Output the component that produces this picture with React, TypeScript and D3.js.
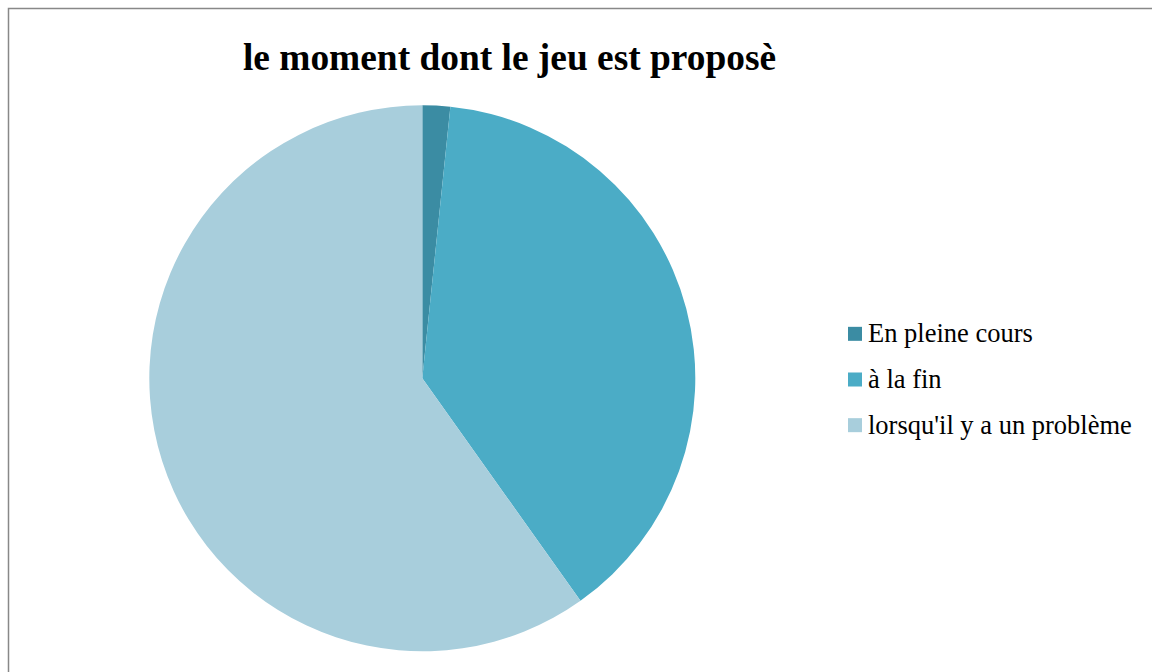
import React from "react";
import * as d3 from "d3";

const categories = ["En pleine cours", "à la fin", "lorsqu'il y a un problème"];
const values = [2, 47, 73];
const colors = ["#3B8CA3", "#4BACC6", "#A8CEDC"];
const title = "le moment dont le jeu est proposè";

const serif = "'Liberation Serif', 'Times New Roman', serif";

export default function App() {
  const W = 1152;
  const H = 672;
  const cx = 422.3;
  const cy = 378.3;
  const r = 273;
  const pie = d3.pie<number>().sort(null).value((d) => d)(values);
  const arc = d3.arc<d3.PieArcDatum<number>>().innerRadius(0).outerRadius(r);
  const legendY = d3.scaleBand<number>().domain(d3.range(categories.length)).range([311, 448]);
  return (
    <svg
      width={W}
      height={H}
      style={{ position: "absolute", left: 0, top: 0, display: "block", fontFamily: serif }}
    >
      <rect x={0} y={0} width={W} height={H} fill="#fff" />
      <rect x={8.5} y={8.5} width={W + 20} height={H + 20} fill="none" stroke="#888" strokeWidth={1.5} />
      <text x={509.5} y={70} textAnchor="middle" style={{ fontFamily: serif, fontSize: 37.4, fontWeight: "bold" }} fill="#000">
        {title}
      </text>
      <g transform={`translate(${cx},${cy})`}>
        {pie.map((p, i) => (
          <path key={i} d={arc(p) || ""} fill={colors[i]} />
        ))}
      </g>
      {categories.map((c, i) => {
        const y = (legendY(i) || 0) + legendY.bandwidth() / 2;
        return (
          <g key={c}>
            <rect x={848} y={y - 7} width={14} height={14} fill={colors[i]} />
            <text x={868} y={y + 8.5} style={{ fontFamily: serif, fontSize: 26.5 }} fill="#000">
              {c}
            </text>
          </g>
        );
      })}
    </svg>
  );
}
